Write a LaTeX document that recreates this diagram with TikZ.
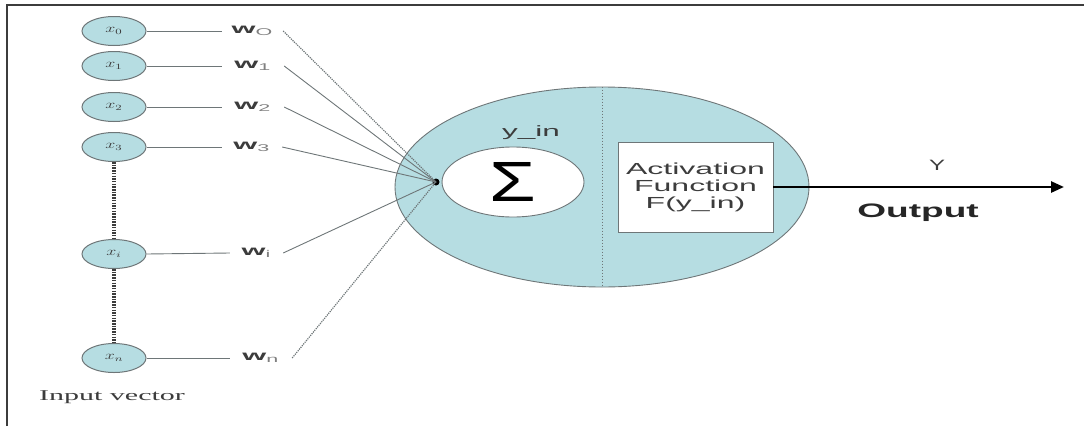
\documentclass[tikz,border=0pt]{standalone}
\usepackage{fontspec}
\setmainfont{Liberation Sans}
\newfontfamily\serifx{Liberation Serif}
\usetikzlibrary{shapes.geometric,arrows.meta}
\definecolor{neuron}{RGB}{182,221,226}
\definecolor{edgec}{RGB}{110,118,120}
\definecolor{inkc}{RGB}{60,60,60}
\newcommand{\wide}[2]{\scalebox{#1}[1]{#2}}
\newcommand{\wlab}[1]{\wide{2.2}{\bfseries w\textsubscript{\mdseries\color{gray}#1}}}
\newcommand{\xlab}[1]{\wide{1.5}{$x_{#1}$}}
\begin{document}
\begin{tikzpicture}[x=1pt,y=-1pt,
  inp/.style={ellipse,draw=edgec,fill=neuron,line width=1pt,minimum width=64pt,minimum height=29pt,inner sep=0pt,
    font=\fontsize{12}{12}\selectfont,text=inkc},
  wt/.style={inner sep=0pt,minimum height=16pt,font=\fontsize{14}{14}\selectfont,text=inkc},
  conn/.style={draw=edgec,line width=0.9pt},
  dconn/.style={draw=edgec,line width=1.2pt,densely dotted},
  vdash/.style={draw=inkc,line width=3.5pt,dash pattern=on 1.5pt off 1.2pt}]
\useasboundingbox (0,0) rectangle (1084,426);
\draw[line width=1.6pt,inkc] (7,426) -- (7,5) -- (1084,5);

% input nodes
\node[inp] (x0) at (114,31) {\xlab{0}};
\node[inp] (x1) at (114,66) {\xlab{1}};
\node[inp] (x2) at (114,107) {\xlab{2}};
\node[inp] (x3) at (114,147) {\xlab{3}};
\node[inp] (xi) at (114,254) {\xlab{i}};
\node[inp] (xn) at (114,358) {\xlab{n}};
\draw[vdash] (x3.south) -- (xi.north);
\draw[vdash] (xi.south) -- (xn.north);

% weight labels
\node[wt,minimum width=61pt] (w0) at (252.5,31) {\wlab{O}};
\node[wt,minimum width=62pt] (w1) at (253,66) {\wlab{1}};
\node[wt,minimum width=62pt] (w2) at (253,107) {\wlab{2}};
\node[wt,minimum width=60pt] (w3) at (252,147) {\wlab{3}};
\node[wt,minimum width=53pt] (wi) at (256.5,253) {\wlab{i}};
\node[wt,minimum width=62pt] (wn) at (261,358) {\wlab{n}};

% neuron body
\node[ellipse,draw=edgec,fill=neuron,line width=0.9pt,minimum width=414pt,minimum height=200pt,inner sep=0pt] (neuron) at (602,187) {};
\draw[draw=edgec,line width=1pt,dotted] (neuron.north) -- (neuron.south);
\node[ellipse,draw=edgec,fill=white,line width=0.9pt,minimum width=142pt,minimum height=70pt,inner sep=0pt] (sigma) at (513,182)
  {\scalebox{1.4}[1.05]{\fontsize{54}{54}\selectfont Σ}};
\node[font=\fontsize{15}{15}\selectfont,text=inkc] (yin) at (531,133) {\wide{2.1}{y\_in}};
\node[draw=edgec,fill=white,line width=0.9pt,minimum width=155pt,minimum height=90pt,inner sep=0pt,align=center,
  font=\fontsize{16}{17}\selectfont,text=inkc] (act) at (695.5,187)
  {\wide{2}{Activation}\\ \wide{2}{Function}\\ \wide{2}{F(y\_in)}};

% summation point
\node[circle,fill=black,inner sep=0pt,minimum size=7pt] (sum) at (436,182) {};

% connections
\foreach \k in {0,1,2,3,i,n}{\draw[conn] (x\k.east) -- (w\k.west);}
\draw[dconn] (w0.east) -- (sum.center);
\draw[conn] (w1.east) -- (sum.center);
\draw[conn] (w2.east) -- (sum.center);
\draw[conn] (w3.east) -- (sum.center);
\draw[conn] (wi.east) -- (sum.center);
\draw[dconn] (wn.east) -- (sum.center);

% output
\coordinate (out) at (1064,187);
\draw[line width=2.6pt,-{Triangle[length=13pt,width=11pt]}] (act.east) -- (out);
\node[font=\fontsize{15}{15}\selectfont,text=inkc] (Y) at (937,165) {\wide{1.6}{Y}};
\node[font=\bfseries\fontsize{19.5}{20}\selectfont,text=black!85] (outl) at (918,213) {\wide{1.9}{Output}};
\node[font=\serifx\fontsize{15}{15}\selectfont,text=inkc] (inv) at (112,397) {\wide{2}{Input vector}};
\end{tikzpicture}
\end{document}
